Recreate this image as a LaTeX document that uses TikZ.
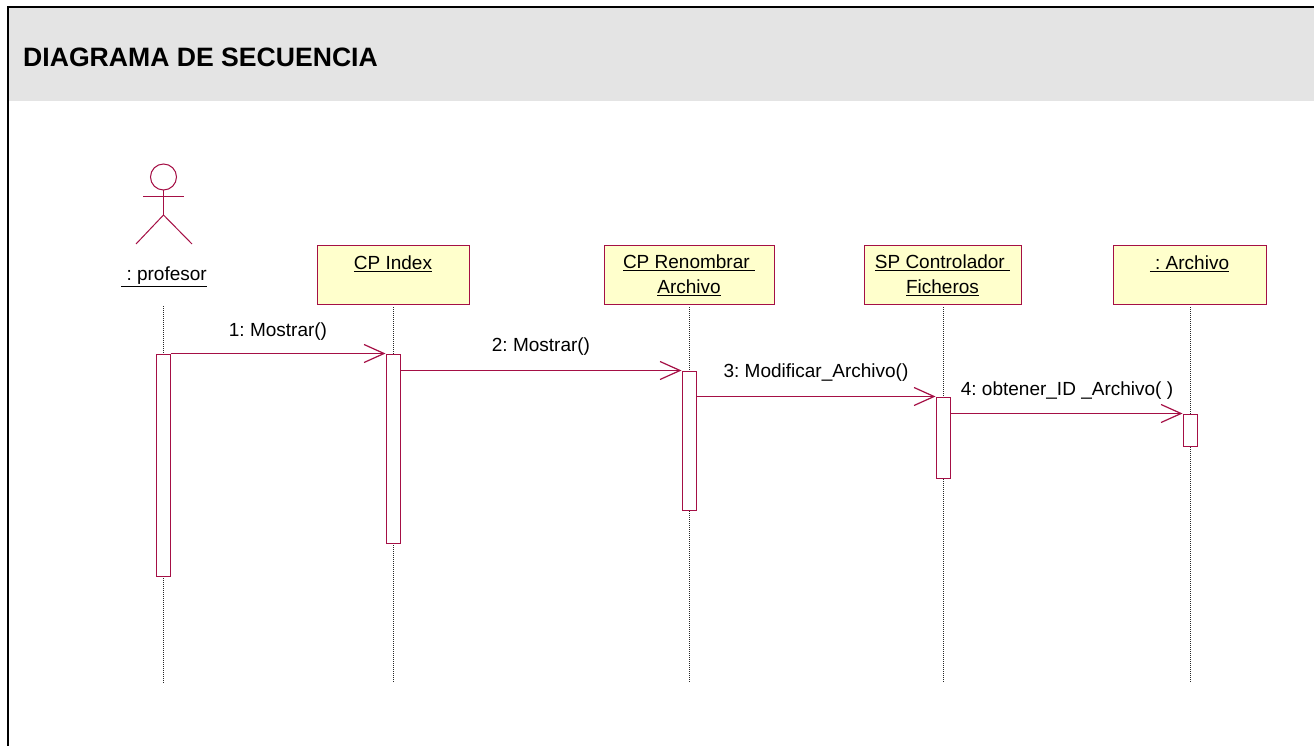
\documentclass[tikz,border=0pt]{standalone}
\usepackage{fontspec}
\usepackage{xcolor}
\usetikzlibrary{arrows.meta}
\setmainfont{Liberation Sans}
\definecolor{umlred}{HTML}{A50F45}
\definecolor{umlfill}{HTML}{FFFFCC}
\definecolor{headgray}{HTML}{E4E4E4}
\begin{document}
\frenchspacing
\begin{tikzpicture}[x=1pt,y=-1pt,
  objbox/.style={draw=umlred,fill=umlfill,line width=1pt,minimum height=59pt,inner sep=0pt,align=center,font=\fontsize{19}{25}\selectfont},
  activ/.style={draw=umlred,fill=white,line width=1pt,minimum width=14pt,inner sep=0pt},
  lifeline/.style={black!85,line width=0.7pt,dash pattern=on 1pt off 1pt},
  actorline/.style={umlred,line width=1pt},
  msg/.style={umlred,line width=1pt,-{Straight Barb[length=20pt,width=18pt,line width=1.2pt]}},
  msgtext/.style={inner sep=0pt,font=\fontsize{19}{22}\selectfont}]
\useasboundingbox (0,0) rectangle (1314,746);
\fill [white] (0,0) rectangle (1314,746);
\fill [headgray] (8,7) rectangle (1314,101);
\draw [black,line width=2pt] (8,746) -- (8,7) -- (1314,7);
\node (title) [anchor=west,inner sep=0pt,font=\bfseries\fontsize{26.6}{30}\selectfont] at (23,57) {DIAGRAMA DE SECUENCIA};

\node (head) [draw=umlred,circle,line width=1pt,minimum size=26pt,inner sep=0pt] at (163.5,177) {};
\coordinate (armL) at (143,197);
\coordinate (armR) at (184,197);
\coordinate (hip) at (163.5,215);
\coordinate (legL) at (136,244);
\coordinate (legR) at (192,244);
\draw [actorline] (head.south) -- (hip);
\draw [actorline] (armL) -- (armR);
\draw [actorline] (legL) -- (hip) -- (legR);
\node (profesor) [inner sep=0pt,font=\fontsize{19}{22}\selectfont] at (164,276.5) {\underline{\ : profesor}};

\node (index) [objbox,minimum width=152pt] at (393,275) {\underline{CP Index}\\\mbox{}};
\node (renombrar) [objbox,minimum width=170pt] at (689,275) {\underline{CP Renombrar\ }\\\underline{Archivo}};
\node (control) [objbox,minimum width=157pt] at (942.5,275) {\underline{SP Controlador\ }\\\underline{Ficheros}};
\node (archivo) [objbox,minimum width=153pt] at (1189.5,275) {\underline{\ : Archivo}\\\mbox{}};

\coordinate (topA) at (163.5,306);
\coordinate (endA) at (163.5,683);
\coordinate (endB) at (393,683);
\coordinate (endC) at (689,683);
\coordinate (endD) at (943,683);
\coordinate (endE) at (1190,683);
\draw [lifeline] (topA) -- (endA);
\draw [lifeline] (index.south) ++(0,2) -- (endB);
\draw [lifeline] (renombrar.south) ++(0,2) -- (endC);
\draw [lifeline] (control.south) ++(0.5,2) -- (endD);
\draw [lifeline] (archivo.south) ++(0.5,2) -- (endE);

\node (actA) [activ,minimum height=222pt] at (163,465) {};
\node (actB) [activ,minimum height=189pt] at (393,448.5) {};
\node (actC) [activ,minimum height=139pt] at (689,440.5) {};
\node (actD) [activ,minimum height=81pt] at (943,437.5) {};
\node (actE) [activ,minimum height=32pt] at (1190,430) {};

\draw [msg] (actA.north east) -- (actB.north west);
\draw [msg] (actB.east |- actC.north) -- (actC.north west);
\draw [msg] (actC.east |- actD.north) -- (actD.north west);
\draw [msg] (actD.east |- actE.north) -- (actE.north west);

\node (msgA) [msgtext] at (278,332) {1: Mostrar()};
\node (msgB) [msgtext] at (541,347) {2: Mostrar()};
\node (msgC) [msgtext] at (816,373) {3: Modificar\_Archivo()};
\node (msgD) [msgtext] at (1067,391) {4: obtener\_ID \_Archivo( )};
\end{tikzpicture}
\end{document}
